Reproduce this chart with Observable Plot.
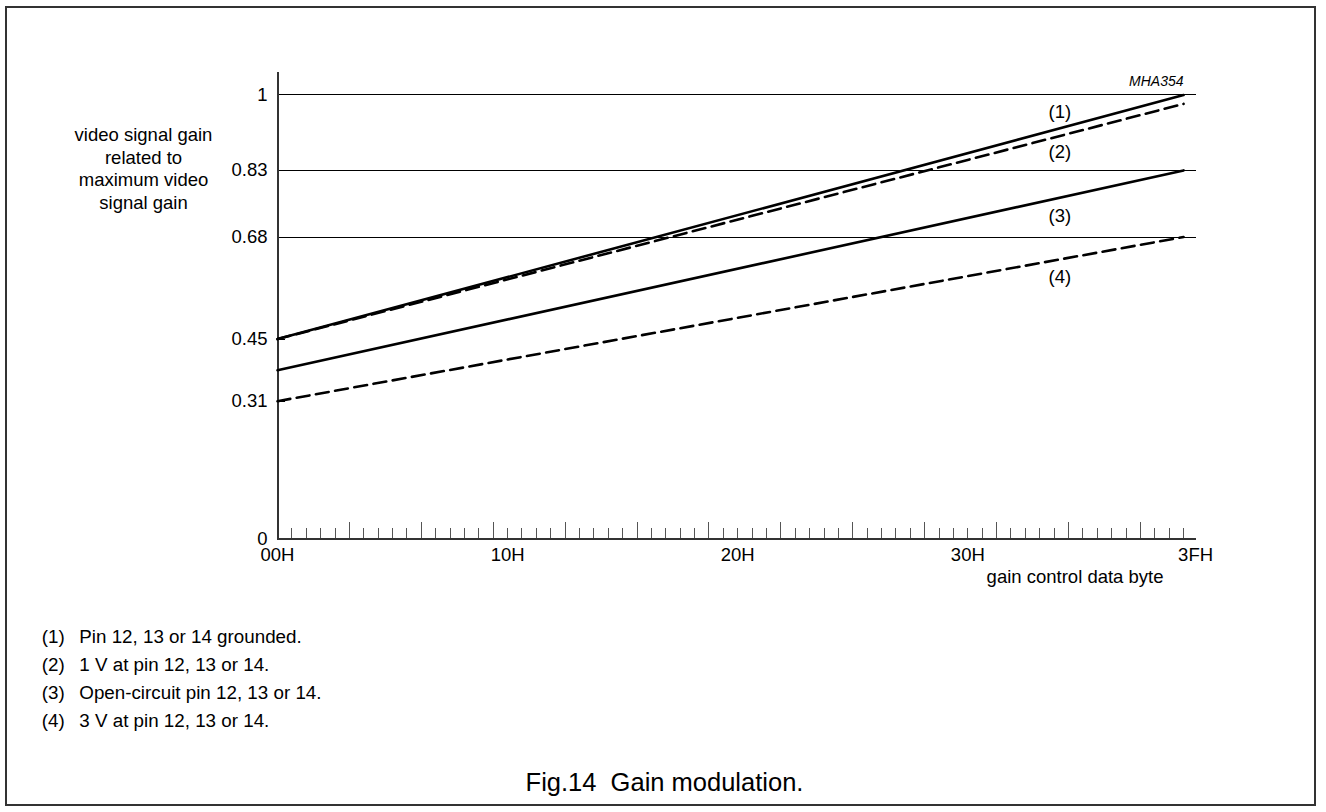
<!DOCTYPE html>
<html>
<head>
<meta charset="utf-8">
<script src="https://cdn.jsdelivr.net/npm/d3@7"></script>
<script src="https://cdn.jsdelivr.net/npm/@observablehq/plot@0.6"></script>
<style>
html, body { margin: 0; padding: 0; background: #fff; }
#page { position: relative; width: 1326px; height: 812px; overflow: hidden;
  font-family: "Liberation Sans", Arial, Helvetica, sans-serif; color: #000; }
#border { position: absolute; left: 5px; top: 6px; width: 1307px; height: 796px; border: 2px solid #333; }
#chart { position: absolute; left: 0; top: 0; }
.note { position: absolute; left: 41.7px; font-size: 18.8px; line-height: 28.3px; white-space: pre; }
.note .num { display: inline-block; width: 37.6px; }
#caption { position: absolute; left: 1.5px; width: 1326px; text-align: center; font-size: 25.5px; line-height: 30px; white-space: pre; }
</style>
</head>
<body>
<div id="page">
  <div id="border"></div>
  <div id="chart"></div>
  <div id="notes"></div>
  <div id="caption"></div>
</div>
<script>
// ---- data ----
const xCodes = [0, 63];                 // 00H .. 3FH
const gain1 = [0.45, 1.00];             // (1) Pin grounded
const gain2 = [0.45, 0.98];             // (2) 1 V
const gain3 = [0.38, 0.83];             // (3) open-circuit
const gain4 = [0.31, 0.68];             // (4) 3 V
const seriesNames = ["(1)", "(2)", "(3)", "(4)"];
const seriesDashed = [false, true, false, true];
const seriesNotes = ["Pin 12, 13 or 14 grounded.", "1 V at pin 12, 13 or 14.",
                     "Open-circuit pin 12, 13 or 14.", "3 V at pin 12, 13 or 14."];
const labelX = 54.4;
const labelY = [0.961, 0.871, 0.728, 0.589];

const gridValues = [1, 0.83, 0.68];
const shortTickValues = [0.45, 0.31];
const yTickValues = [1, 0.83, 0.68, 0.45, 0.31, 0];
const yTickLabels = ["1", "0.83", "0.68", "0.45", "0.31", "0"];
const xTickValues = [0, 16, 32, 48];
const xTickLabels = ["00H", "10H", "20H", "30H"];
const xLastTickValue = [63];
const xLastTickLabel = ["3FH"];
const xTitle = "gain control data byte";
const yTitle = "video signal gain\nrelated to\nmaximum video\nsignal gain";
const figCode = "MHA354";
const caption = "Fig.14  Gain modulation.";

// ---- build ----
const seriesGains = [gain1, gain2, gain3, gain4];
const rows = seriesNames.flatMap((s, i) =>
  xCodes.map((x, j) => ({series: s, x, y: seriesGains[i][j], dashed: seriesDashed[i]})));
const labels = seriesNames.map((s, i) => ({text: s, x: labelX, y: labelY[i]}));

const allTicks = d3.range(1, 64);
const majorTicks = allTicks.filter(d => d % 5 === 0);
const minorTicks = allTicks.filter(d => d % 5 !== 0);

const W = 1326, H = 600, mT = 72.3, mB = 61.7, mL = 277, mR = 130;
const frameH = H - mT - mB;
const font = 18.5;
const crisp = {shapeRendering: "crispEdges"};

const chart = Plot.plot({
  width: W, height: H,
  marginLeft: mL, marginRight: mR, marginTop: mT, marginBottom: mB,
  x: {domain: [0, 63.9], axis: null},
  y: {domain: [0, 1.05], axis: null},
  style: {background: "transparent", fontFamily: "'Liberation Sans', Arial, Helvetica, sans-serif", overflow: "visible"},
  marks: [
    Plot.ruleY(gridValues, {stroke: "#000", strokeWidth: 1, ...crisp}),
    Plot.ruleY(shortTickValues, {x1: 0, x2: 0.55, stroke: "#000", strokeWidth: 1, ...crisp}),
    Plot.tickX(minorTicks, {x: d => d, insetTop: frameH - 10, stroke: "#555", strokeWidth: 1, ...crisp}),
    Plot.tickX(majorTicks, {x: d => d, insetTop: frameH - 16.7, stroke: "#555", strokeWidth: 1, ...crisp}),
    Plot.ruleX([0], {stroke: "#333", strokeWidth: 2, ...crisp}),
    Plot.ruleY([0], {stroke: "#333", strokeWidth: 2, ...crisp}),
    Plot.line(rows.filter(d => !d.dashed), {x: "x", y: "y", z: "series", stroke: "#000", strokeWidth: 2.6}),
    Plot.line(rows.filter(d => d.dashed), {x: "x", y: "y", z: "series", stroke: "#000", strokeWidth: 2.6, strokeDasharray: "13,6.5"}),
    Plot.text(labels, {x: "x", y: "y", text: "text", fontSize: font, fill: "#000"}),
    Plot.text(yTickValues, {x: 0, y: d => d, text: (d, i) => yTickLabels[i], textAnchor: "end", dx: -10, fontSize: font, fill: "#000"}),
    Plot.text(xTickValues, {x: d => d, y: 0, text: (d, i) => xTickLabels[i], dy: 16.5, fontSize: font, fill: "#000"}),
    Plot.text(xLastTickValue, {x: d => d, y: 0, text: (d, i) => xLastTickLabel[i], dy: 16.5, dx: 12, fontSize: font, fill: "#000"}),
    Plot.text([xTitle], {frameAnchor: "bottom-right", lineAnchor: "middle", text: d => d, textAnchor: "end", dx: -33, dy: 38, fontSize: font, fill: "#000"}),
    Plot.text([yTitle], {frameAnchor: "top-left", lineAnchor: "middle", text: d => d, textAnchor: "middle", dx: -134, dy: 95, lineHeight: 1.216, fontSize: font, fill: "#000"}),
    Plot.text([figCode], {frameAnchor: "top-right", lineAnchor: "middle", text: d => d, textAnchor: "end", dx: -13, dy: 8.4, fontSize: 14, fontStyle: "italic", fill: "#000"})
  ]
});
document.getElementById("chart").appendChild(chart);

// notes
const notes = d3.select("#notes");
seriesNames.forEach((s, i) => {
  const div = notes.append("div").attr("class", "note").style("top", (622.5 + i * 28.33) + "px");
  div.append("span").attr("class", "num").text(s);
  div.append("span").text(seriesNotes[i]);
});
d3.select("#caption").style("top", (782.4 - 15) + "px").text(caption);
</script>
</body>
</html>
